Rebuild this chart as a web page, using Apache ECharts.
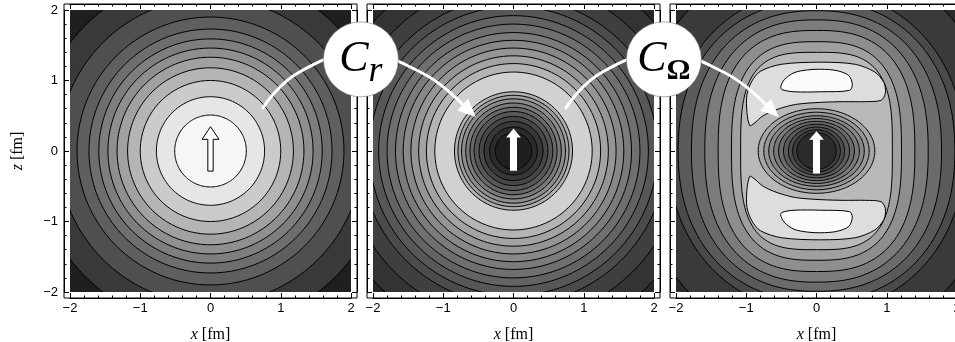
<!DOCTYPE html>
<html><head><meta charset="utf-8">
<script src="https://cdn.jsdelivr.net/npm/echarts@6/dist/echarts.min.js"></script>
<style>html,body{margin:0;padding:0;background:#fff}#c{width:955px;height:342px}</style>
</head><body><div id="c"></div>
<script>
// ================= DATA (units: fm) =================
const tickValues = [-2, -1, 0, 1, 2];
// Panel 1: circular contour radii, outer -> inner
const p1Radii = [2.52, 2.17, 1.90, 1.73, 1.59, 1.46, 1.33, 1.18, 1.00, 0.77, 0.51];
// Panel 2: circular contours outside the light ring (outer -> inner) and inside it
const p2OuterRadii = [2.71, 2.41, 2.18, 2.05, 1.92, 1.80, 1.68, 1.57, 1.46, 1.35, 1.24, 1.12];
const p2InnerRadii = [0.84, 0.79, 0.74, 0.68, 0.62, 0.56, 0.49, 0.42, 0.34, 0.26];
// Panel 3: outer contours as [half-width x, half-height z, squareness], outer -> inner
const p3Outer = [[2.6,2.8,2.0],[2.11,2.28,2.1],[1.97,2.13,2.2],[1.78,1.99,2.3],[1.59,1.86,2.4],[1.40,1.71,2.6],[1.21,1.55,2.8],[1.08,1.40,3.2]];
// Panel 3: upper lobes (lower lobes are their mirror images), [x, z]
const p3LobeOuter = [[-0.95,0.36],[-0.99,0.55],[-0.99,0.80],[-0.92,0.99],[-0.80,1.13],[-0.50,1.23],[0.06,1.26],[0.55,1.23],[0.83,1.12],[0.96,0.97],[0.98,0.82],[0.92,0.72],[0.70,0.70],[0.40,0.70],[0.06,0.69],[-0.30,0.66],[-0.56,0.59],[-0.76,0.50],[-0.89,0.39]];
const p3LobeInner = [[-0.51,0.905],[-0.46,1.01],[-0.32,1.11],[-0.13,1.15],[0.06,1.16],[0.29,1.14],[0.46,1.07],[0.51,0.94],[0.47,0.86],[0.06,0.84],[-0.32,0.84],[-0.49,0.87]];
// Panel 3: core contours as [half-width x, half-height z], outer -> inner
const p3CoreA = [0.83, 0.75, 0.68, 0.61, 0.54, 0.47, 0.40, 0.34, 0.28];
const p3CoreB = [0.60, 0.55, 0.50, 0.46, 0.42, 0.38, 0.34, 0.30, 0.26];
// annotations (panel-local data coordinates)
const connectorPath = [[0.747,0.612],[1.273,1.124],[2.141,1.366],[2.98,1.124],[3.578,0.669]];
const connectorTip = [3.777, 0.484];
const bubbleCenter = [2.141, 1.30];
const bubbleLabels = ['{c|C}{r|r}', '{c|C}{o|Ω}'];
const arrowHollow = [[-0.038,-0.285],[0.038,-0.285],[0.038,0.166],[0.12,0.166],[0,0.345],[-0.12,0.166],[-0.038,0.166]];
const arrowSolid2 = [[-0.05,-0.28],[0.05,-0.28],[0.05,0.19],[0.105,0.19],[0,0.32],[-0.105,0.19],[-0.05,0.19]];
const arrowSolid3 = [[-0.05,-0.32],[0.05,-0.32],[0.05,0.16],[0.105,0.16],[0,0.28],[-0.105,0.16],[-0.05,0.16]];

// ================= STYLE =================
const p1Bg = '#1f1f1f';
const p1Fill = ['#393939','#4f4f4f','#5f5f5f','#6e6e6e','#7e7e7e','#8f8f8f','#a1a1a1','#b5b5b5','#cbcbcb','#e6e6e6','#f6f6f6'];
const p2Bg = '#272727';
const p2OuterFill = ['#333333','#3f3f3f','#4b4b4b','#575757','#636363','#6f6f6f','#7b7b7b','#888888','#959595','#a3a3a3','#b4b4b4','#d1d1d1'];
const p2InnerFill = ['#b0b0b0','#9e9e9e','#8c8c8c','#7a7a7a','#686868','#575757','#474747','#383838','#2b2b2b','#1f1f1f'];
const p3Bg = '#2a2a2a';
const p3OuterFill = ['#3a3a3a','#4a4a4a','#5a5a5a','#6b6b6b','#7c7c7c','#8e8e8e','#a0a0a0','#b9b9b9'];
const p3LobeOuterFill = '#dddddd', p3LobeInnerFill = '#fbfbfb';
const p3CoreFill = ['#a6a6a6','#979797','#888888','#797979','#6a6a6a','#5b5b5b','#4c4c4c','#3d3d3d','#2b2b2b'];

const panelLeft = [70, 373, 676];
const W = 281, H = 282, TOP = 10, PAD = 6;

// ================= geometry helpers =================
function superPts(a, b, e, n) {
  n = n || 180; const pts = [];
  for (let k = 0; k < n; k++) {
    const t = 2 * Math.PI * k / n, c = Math.cos(t), s = Math.sin(t);
    pts.push([a * Math.sign(c) * Math.pow(Math.abs(c), 2 / e), b * Math.sign(s) * Math.pow(Math.abs(s), 2 / e)]);
  }
  return pts;
}
const square = [[-2.5,-2.5],[2.5,-2.5],[2.5,2.5],[-2.5,2.5]];
const mirror = pts => pts.map(p => [p[0], -p[1]]);

const shapes1 = [{pts: square, fill: p1Bg, stroke: false}]
  .concat(p1Radii.map((r, i) => ({pts: superPts(r, r, 2), fill: p1Fill[i], stroke: true})));
const shapes2 = [{pts: square, fill: p2Bg, stroke: false}]
  .concat(p2OuterRadii.map((r, i) => ({pts: superPts(r, r, 2), fill: p2OuterFill[i], stroke: true})))
  .concat(p2InnerRadii.map((r, i) => ({pts: superPts(r, r, 2), fill: p2InnerFill[i], stroke: true})));
const shapes3 = [{pts: square, fill: p3Bg, stroke: false}]
  .concat(p3Outer.map((o, i) => ({pts: superPts(o[0], o[1], o[2]), fill: p3OuterFill[i], stroke: true})))
  .concat([
    {pts: p3LobeOuter, fill: p3LobeOuterFill, stroke: true, smooth: 0.3},
    {pts: mirror(p3LobeOuter), fill: p3LobeOuterFill, stroke: true, smooth: 0.3},
    {pts: p3LobeInner, fill: p3LobeInnerFill, stroke: true, smooth: 0.3},
    {pts: mirror(p3LobeInner), fill: p3LobeInnerFill, stroke: true, smooth: 0.3}
  ])
  .concat(p3CoreA.map((a, i) => ({pts: superPts(a, p3CoreB[i], 2), fill: p3CoreFill[i], stroke: true})));
const panelShapes = [shapes1, shapes2, shapes3];

function makeRender(shapes) {
  return function (params, api) {
    const s = shapes[params.dataIndex];
    return {
      type: 'polygon',
      shape: {points: s.pts.map(p => api.coord(p)), smooth: s.smooth || 0},
      style: {fill: s.fill, stroke: s.stroke ? '#000' : null, lineWidth: 1}
    };
  };
}

const fmt = v => v < 0 ? '\u2212' + Math.abs(v) : String(v);
const labelStyle = {fontFamily: 'Liberation Sans', fontSize: 13, color: '#000'};
const nameStyle = {fontFamily: 'Liberation Serif', fontSize: 16, color: '#000',
  rich: {i: {fontFamily: 'Liberation Serif', fontStyle: 'italic', fontSize: 16, color: '#000'}}};

function dataAxis(grid, pos, showLabel, name, isY) {
  const ax = {
    type: 'value', gridIndex: grid, position: pos, offset: PAD, min: -2, max: 2, interval: 1, z: 10,
    axisLine: {show: true, onZero: false, lineStyle: {color: '#000', width: 1}},
    axisTick: {show: true, inside: true, length: 5, lineStyle: {color: '#000', width: 1}},
    minorTick: {show: true, splitNumber: 5, length: 2.5, lineStyle: {color: '#000', width: 1}},
    splitLine: {show: false}, minorSplitLine: {show: false},
    axisLabel: {show: showLabel, formatter: fmt, margin: isY ? 6 : 4, ...labelStyle}
  };
  if (name) {
    ax.name = name; ax.nameLocation = 'middle'; ax.nameGap = isY ? 38 : 29;
    ax.nameTextStyle = nameStyle;
    if (isY) ax.nameRotate = 90;
  }
  return ax;
}

const grids = [], xAxes = [], yAxes = [], series = [];
for (let i = 0; i < 3; i++) {
  grids.push({left: panelLeft[i] - PAD, top: TOP - PAD, width: W + 2 * PAD, height: H + 2 * PAD,
    show: true, borderColor: '#000', borderWidth: 1, backgroundColor: 'transparent', outerBoundsMode: 'none'});
  xAxes.push({type: 'value', gridIndex: i, show: false, min: 0, max: 1});
  yAxes.push({type: 'value', gridIndex: i, show: false, min: 0, max: 1});
}
for (let i = 0; i < 3; i++) {
  grids.push({left: panelLeft[i], top: TOP, width: W, height: H, show: false, outerBoundsMode: 'none'});
  const g = 3 + i;
  xAxes.push(dataAxis(g, 'bottom', true, '{i|x} [fm]', false));
  xAxes.push(dataAxis(g, 'top', false, null, false));
  yAxes.push(dataAxis(g, 'left', i === 0, i === 0 ? '{i|z} [fm]' : null, true));
  yAxes.push(dataAxis(g, 'right', false, null, true));
  series.push({
    type: 'custom', coordinateSystem: 'cartesian2d', xAxisIndex: 3 + 2 * i, yAxisIndex: 3 + 2 * i,
    clip: true, silent: true, renderItem: makeRender(panelShapes[i]),
    data: panelShapes[i].map(() => [0, 0]), encode: {x: 0, y: 1}
  });
}

const chart = echarts.init(document.getElementById('c'));
chart.setOption({animation: false, grid: grids, xAxis: xAxes, yAxis: yAxes, series: series});

// ================= annotations =================
const toPx = (gi, p) => chart.convertToPixel({gridIndex: 3 + gi}, p);
const els = [];
const arrows = [arrowHollow, arrowSolid2, arrowSolid3];
arrows.forEach((a, i) => {
  els.push({type: 'polygon', z: 100, shape: {points: a.map(p => toPx(i, p))},
    style: {fill: '#fff', stroke: i === 0 ? '#000' : null, lineWidth: 1}});
});
for (let i = 0; i < 2; i++) {
  const pts = connectorPath.map(p => toPx(i, p));
  const tip = toPx(i, connectorTip);
  const base = pts[pts.length - 1];
  let dx = tip[0] - base[0], dy = tip[1] - base[1];
  const L = Math.hypot(dx, dy); dx /= L; dy /= L;
  const hb = [tip[0] - dx * 18, tip[1] - dy * 18];
  els.push({type: 'polyline', z: 100, shape: {points: pts.slice(0, -1).concat([hb]), smooth: 0.5},
    style: {stroke: '#fff', lineWidth: 3, fill: null, lineCap: 'round'}});
  els.push({type: 'polygon', z: 101, shape: {points: [tip, [hb[0] - dy * 8, hb[1] + dx * 8], [hb[0] + dy * 8, hb[1] - dx * 8]]},
    style: {fill: '#fff'}});
  const c = toPx(i, bubbleCenter);
  els.push({type: 'circle', z: 102, shape: {cx: c[0], cy: c[1], r: 37.5}, style: {fill: '#fff', stroke: '#777', lineWidth: 0.6}});
  els.push({type: 'text', z: 103, x: c[0], y: c[1], style: {
    text: bubbleLabels[i], align: 'center', verticalAlign: 'middle',
    rich: {
      c: {fontFamily: 'Liberation Serif', fontStyle: 'italic', fontSize: 44, fill: '#000'},
      r: {fontFamily: 'Liberation Serif', fontStyle: 'italic', fontSize: 36, fill: '#000', padding: [24, 0, 0, 0]},
      o: {fontFamily: 'Liberation Serif', fontWeight: 'bold', fontSize: 30, fill: '#000', padding: [24, 0, 0, 0]}
    }}});
}
chart.setOption({graphic: {elements: els}});
</script></body></html>
